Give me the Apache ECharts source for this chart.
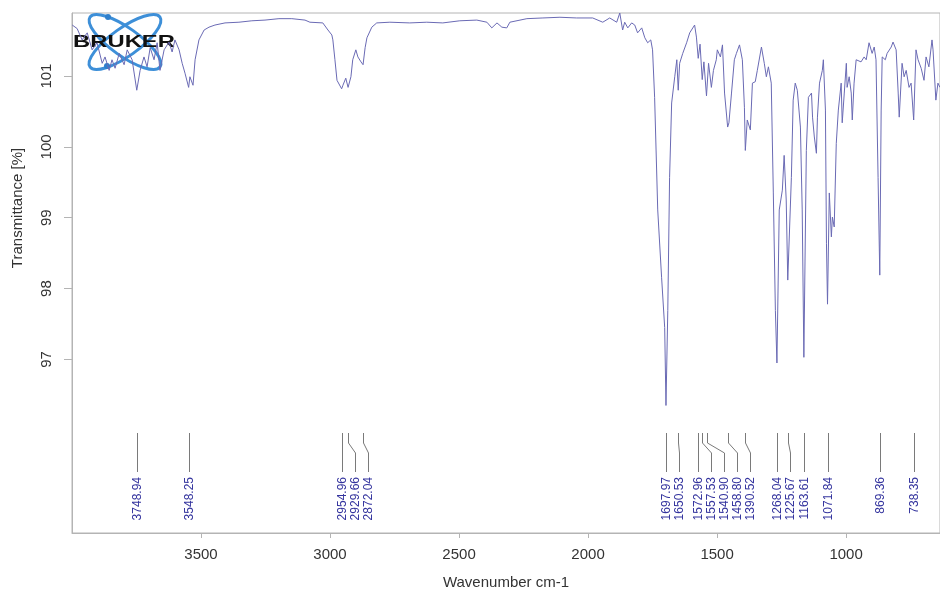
<!DOCTYPE html>
<html>
<head>
<meta charset="utf-8">
<script src="https://cdn.jsdelivr.net/npm/echarts@6.0.0/dist/echarts.min.js"></script>
<style>
  html, body { margin: 0; padding: 0; background: #ffffff; }
  #chart { width: 940px; height: 595px; }
</style>
</head>
<body>
<div id="chart"></div>
<script>
// IR spectrum: wavenumber (cm-1) and transmittance (%)
const wavenumber = [
  3999, 3980, 3961, 3941, 3922, 3903, 3883, 3872, 3856, 3845, 3833, 3817, 3798, 3786, 3767,
  3749, 3736, 3721, 3709, 3697, 3682, 3670, 3659, 3643, 3624, 3612, 3601, 3585, 3573, 3562,
  3548, 3543, 3531, 3523, 3508, 3488, 3469, 3446, 3407, 3353, 3303, 3252, 3198, 3148, 3097,
  3078, 3028, 3008, 2993, 2989, 2981, 2973, 2955, 2950, 2939, 2930, 2919, 2912, 2900, 2892,
  2880, 2872, 2864, 2857, 2838, 2819, 2768, 2691, 2625, 2563, 2497, 2431, 2392, 2373, 2353,
  2334, 2315, 2303, 2237, 2175, 2109, 2044, 1982, 1943, 1916, 1889, 1877, 1866, 1858, 1846,
  1831, 1819, 1808, 1792, 1780, 1769, 1757, 1750, 1742, 1730, 1715, 1703, 1698, 1691, 1684,
  1676, 1664, 1656, 1650.5, 1645, 1633, 1618, 1606, 1587, 1580, 1573, 1566, 1557.5, 1551, 1541,
  1533, 1522, 1514, 1503, 1499, 1487, 1479, 1471, 1459, 1454, 1444, 1433, 1425, 1413, 1402,
  1394, 1390.5, 1383, 1371, 1363, 1352, 1344, 1328, 1317, 1309, 1301, 1290, 1282, 1274, 1268,
  1259, 1247, 1240, 1232, 1226, 1212, 1205, 1197, 1189, 1177, 1170, 1163.6, 1154, 1146, 1134,
  1130, 1123, 1115, 1111, 1103, 1092, 1088, 1080, 1076, 1072, 1065, 1057, 1053, 1046, 1038,
  1030, 1019, 1015, 1007, 999, 996, 988, 980, 976, 969, 961, 942, 930, 922, 911,
  899, 891, 884, 876, 869.4, 864, 860, 848, 841, 825, 818, 806, 798, 794, 783,
  775, 767, 756, 748, 738, 729, 721, 709, 698, 690, 679, 667, 663, 652, 644,
  636
];
const transmittance = [
  101.72, 101.67, 101.51, 101.61, 101.37, 101.47, 101.18, 101.27, 101.08, 101.23, 101.11, 101.32, 101.16, 101.37, 101.23,
  100.80, 101.08, 101.27, 101.13, 101.40, 101.23, 101.47, 101.08, 101.37, 101.48, 101.34, 101.51, 101.37, 101.18, 101.04,
  100.84, 100.99, 100.87, 101.23, 101.51, 101.65, 101.69, 101.72, 101.75, 101.76, 101.78, 101.79, 101.81, 101.81, 101.79,
  101.76, 101.75, 101.65, 101.58, 101.51, 101.23, 100.94, 100.82, 100.87, 100.97, 100.84, 100.99, 101.23, 101.37, 101.27,
  101.20, 101.16, 101.40, 101.54, 101.69, 101.75, 101.76, 101.75, 101.76, 101.75, 101.78, 101.79, 101.76, 101.68, 101.75,
  101.69, 101.68, 101.76, 101.81, 101.82, 101.83, 101.82, 101.82, 101.76, 101.82, 101.76, 101.89, 101.65, 101.76, 101.68,
  101.75, 101.72, 101.61, 101.68, 101.54, 101.47, 101.51, 101.37, 100.70, 99.11, 98.16, 97.45, 96.35, 97.69, 99.57,
  100.62, 100.99, 101.23, 100.80, 101.18, 101.32, 101.47, 101.61, 101.72, 101.55, 101.25, 101.45, 100.95, 101.20, 100.72,
  101.18, 100.84, 101.08, 101.23, 101.37, 101.27, 101.44, 100.76, 100.28, 100.34, 100.76, 101.23, 101.32, 101.44, 101.23,
  100.56, 99.95, 100.38, 100.24, 100.90, 100.92, 101.08, 101.41, 101.18, 100.99, 101.13, 100.90, 99.35, 97.69, 96.95,
  99.11, 99.39, 99.88, 99.25, 98.12, 99.57, 100.66, 100.90, 100.80, 100.28, 99.11, 97.03, 99.95, 100.70, 100.76,
  100.42, 100.14, 99.91, 100.42, 100.90, 101.08, 101.23, 100.52, 98.64, 97.78, 99.35, 98.73, 99.01, 98.87, 100.05,
  100.52, 100.90, 100.34, 100.76, 101.18, 100.84, 100.99, 100.76, 100.38, 100.90, 101.23, 101.20, 101.27, 101.23, 101.47,
  101.32, 101.41, 101.23, 99.57, 98.19, 100.52, 101.27, 101.23, 101.32, 101.41, 101.48, 101.37, 100.76, 100.42, 101.18,
  100.99, 101.08, 100.84, 100.90, 100.38, 101.37, 101.23, 101.11, 100.94, 101.27, 101.13, 101.51, 101.37, 100.66, 100.90,
  100.84
];

// Picked peak positions (cm-1)
const peakPositions = [
  3748.94, 3548.25, 2954.96, 2929.66, 2872.04, 1697.97, 1650.53, 1572.96, 1557.53,
  1540.90, 1458.80, 1390.52, 1268.04, 1225.67, 1163.61, 1071.84, 869.36, 738.35
];

const xTicks = [3500, 3000, 2500, 2000, 1500, 1000];
const yTicks = [97, 98, 99, 100, 101];

const FONT = 'Liberation Sans, Arial, sans-serif';
const LABEL_GAP = 13;      // minimum horizontal spacing between peak labels (px)

const spectrum = wavenumber.map((w, i) => [w, transmittance[i]]);

// Peak annotation: leader line from the peak position to a spread-out label slot
function renderPeak(params, api) {
  const cs = params.coordSys;
  const bottom = cs.y + cs.height;
  const xs = peakPositions.map(p => api.coord([p, 96])[0]);
  const order = xs.map((x, i) => i).sort((a, b) => xs[a] - xs[b]);
  const slots = new Array(xs.length);
  let prev = -Infinity;
  order.forEach(i => {
    const v = Math.max(xs[i], prev + LABEL_GAP);
    slots[i] = v;
    prev = v;
  });
  const i = params.dataIndex;
  const px = Math.round(xs[i]) + 0.5;
  const lx = Math.round(slots[i]) + 0.5;
  const top = bottom - 100;
  return {
    type: 'group',
    children: [
      {
        type: 'polyline',
        shape: { points: [[px, top], [px, top + 10], [lx, top + 20], [lx, top + 39]] },
        style: { stroke: '#7a7a7a', lineWidth: 1, fill: null }
      },
      {
        type: 'text',
        x: lx,
        y: top + 44,
        rotation: Math.PI / 2,
        style: {
          text: peakPositions[i].toFixed(2),
          align: 'right',
          verticalAlign: 'middle',
          fill: '#34349e',
          font: '12px ' + FONT
        }
      }
    ]
  };
}

const chart = echarts.init(document.getElementById('chart'), null, { renderer: 'canvas' });

chart.setOption({
  animation: false,
  backgroundColor: '#ffffff',
  grid: {
    left: 72, right: -1, top: 13, bottom: 62,
    show: true, borderColor: '#b4b4b4', borderWidth: 1
  },
  xAxis: {
    type: 'value',
    inverse: true,
    min: 636,
    max: 4000,
    name: 'Wavenumber cm-1',
    nameLocation: 'middle',
    nameGap: 42,
    nameTextStyle: { fontFamily: FONT, fontSize: 15, color: '#333' },
    axisLine: { show: true, lineStyle: { color: '#b4b4b4', width: 1 } },
    axisTick: { show: true, length: 5, customValues: xTicks, lineStyle: { color: '#b4b4b4' } },
    axisLabel: {
      customValues: xTicks,
      formatter: v => String(v),
      margin: 14,
      fontFamily: FONT, fontSize: 15, color: '#333'
    },
    splitLine: { show: false }
  },
  yAxis: {
    type: 'value',
    min: 94.55,
    max: 101.89,
    axisLine: { show: true, lineStyle: { color: '#b4b4b4', width: 1 } },
    axisTick: { show: true, length: 8, customValues: yTicks, lineStyle: { color: '#b4b4b4' } },
    axisLabel: {
      customValues: yTicks,
      formatter: v => String(v),
      rotate: 90,
      margin: 18,
      fontFamily: FONT, fontSize: 15, color: '#333'
    },
    splitLine: { show: false }
  },
  graphic: [
    {
      type: 'text',
      x: 18, y: 208,
      rotation: Math.PI / 2,
      style: {
        text: 'Transmittance [%]',
        align: 'center', verticalAlign: 'middle',
        fill: '#333', font: '15px ' + FONT
      }
    },
    {
      type: 'group',
      z: 100,
      children: [
        { type: 'ellipse', x: 125, y: 42, rotation: 0.62,
          shape: { cx: 0, cy: 0, rx: 43, ry: 14 },
          style: { fill: null, stroke: '#3d8fd8', lineWidth: 3 } },
        { type: 'ellipse', x: 125, y: 42, rotation: -0.62,
          shape: { cx: 0, cy: 0, rx: 43, ry: 14 },
          style: { fill: null, stroke: '#3d8fd8', lineWidth: 3 } },
        { type: 'circle', shape: { cx: 108, cy: 17, r: 3 }, style: { fill: '#2f7fcc' } },
        { type: 'circle', shape: { cx: 107, cy: 66, r: 3 }, style: { fill: '#2f7fcc' } },
        { type: 'text', x: 124, y: 42, scaleX: 1.4,
          style: { text: 'BRUKER', align: 'center', verticalAlign: 'middle',
                   fill: '#111', font: '900 17px ' + FONT } }
      ]
    }
  ],
  series: [
    {
      type: 'line',
      data: spectrum,
      showSymbol: false,
      symbol: 'none',
      smooth: false,
      lineStyle: { color: '#6a6ab4', width: 1 },
      z: 5
    },
    {
      type: 'custom',
      renderItem: renderPeak,
      data: peakPositions.map(p => [p, 96]),
      clip: false,
      silent: true,
      z: 4
    }
  ]
});
</script>
</body>
</html>
